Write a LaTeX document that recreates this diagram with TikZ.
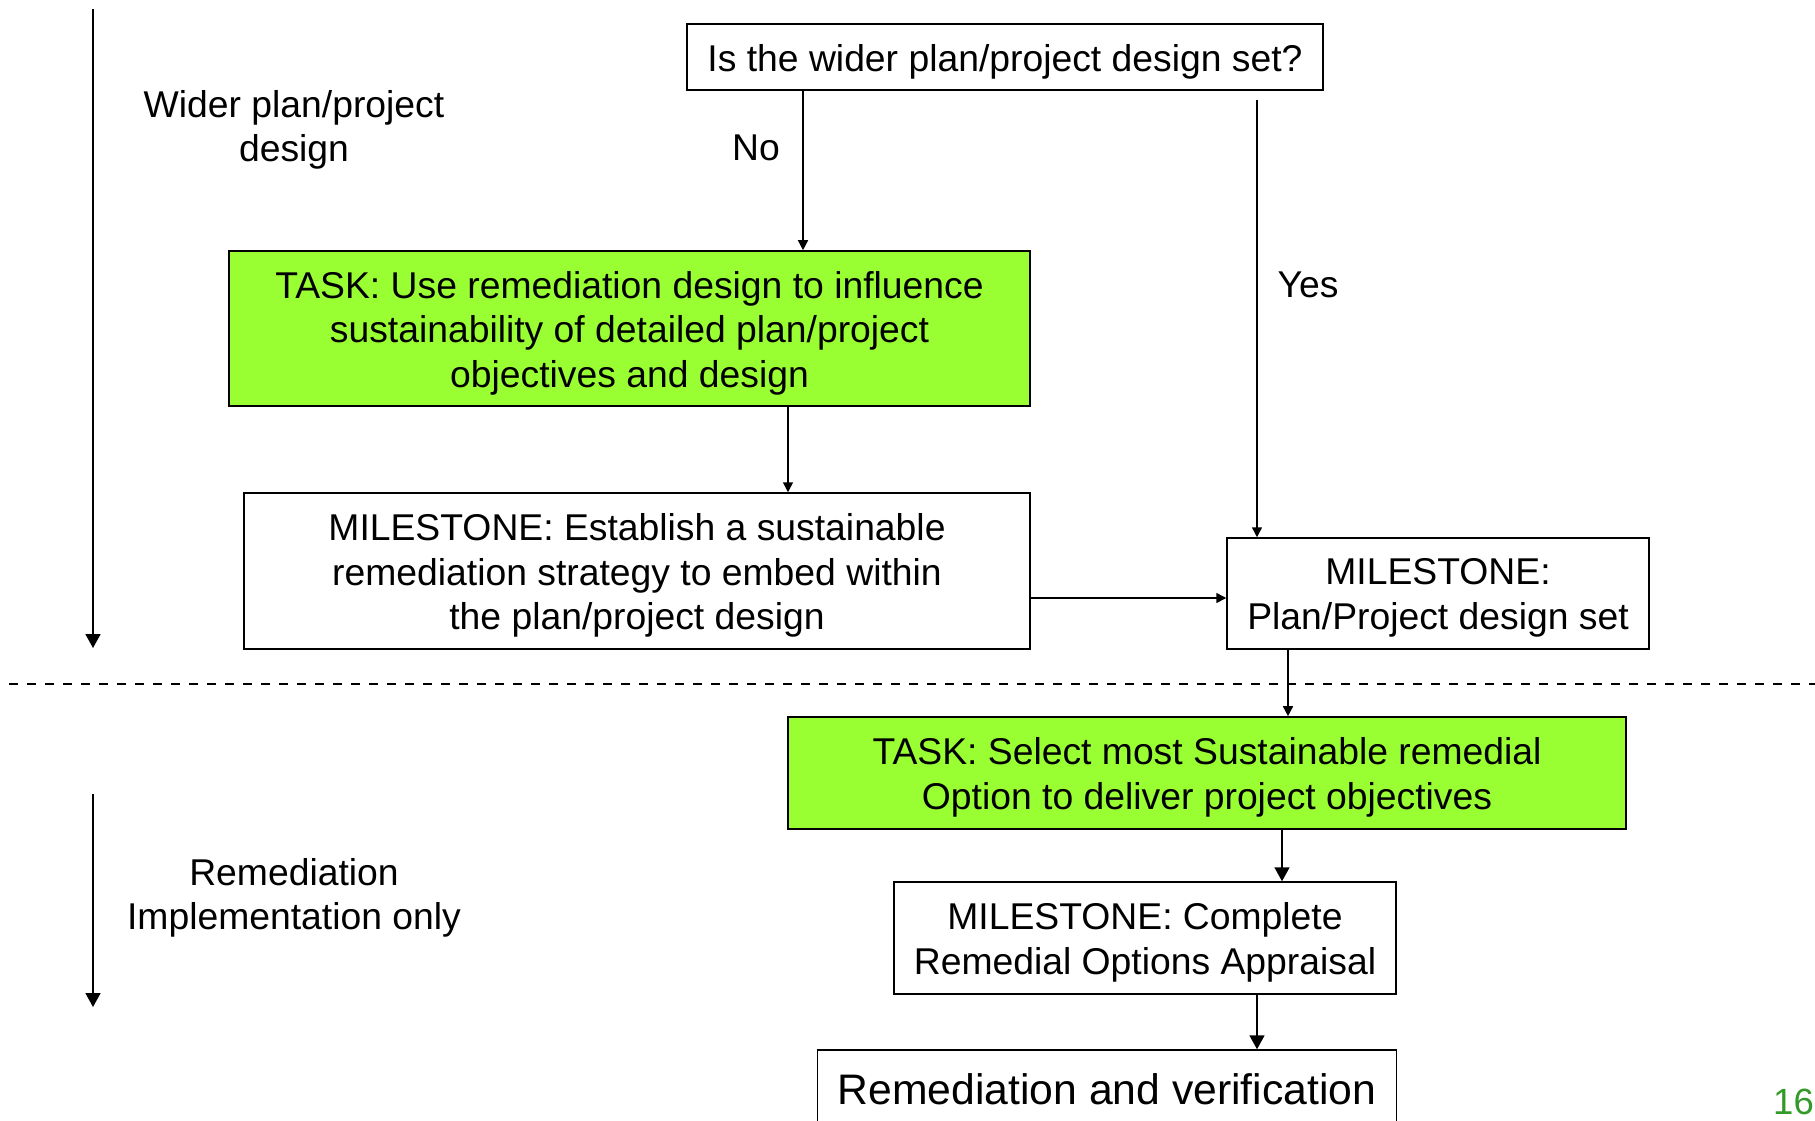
\documentclass[tikz,border=0pt]{standalone}
\usepackage{fontspec}
\setmainfont{Liberation Sans}
\usetikzlibrary{arrows.meta}
\definecolor{taskgreen}{RGB}{153,255,51}
\definecolor{pagegreen}{RGB}{51,153,40}
\begin{document}
\begin{tikzpicture}[x=1pt,y=-1pt,
  every node/.style={font=\fontsize{37.3}{44.5}\selectfont, inner sep=0pt, align=center},
  box/.style={draw, line width=1.5pt, fill=white},
  taskbox/.style={draw, line width=1.6pt, fill=taskgreen},
  smallarrow/.style={-{Triangle[length=10pt,width=10pt]}, line width=1.5pt},
  bigarrow/.style={-{Triangle[length=14pt,width=15pt]}, line width=1.7pt},
  phase/.style={dash pattern=on 9pt off 9pt, line width=1.7pt},
]
\useasboundingbox (0,0) rectangle (1815,1121);

% phase labels and their timeline arrows
\node (lblA) at (294,130) {Wider plan/project\\design};
\node (lblB) at (294,898) {Remediation\\Implementation only};
\coordinate (tA1) at (93,9);
\coordinate (tA2) at (93,648);
\coordinate (tB1) at (93,794);
\coordinate (tB2) at (93,1007);
\draw[bigarrow] (tA1) -- (tA2);
\draw[bigarrow] (tB1) -- (tB2);

% boundary between the two phases
\coordinate (dl) at (9,684);
\coordinate (dr) at (1815,684);
\draw[phase] (dl) -- (dr);

% boxes
\node[box, minimum width=636pt, minimum height=66pt] (q) at (1005,57) {};
\node[taskbox, minimum width=801pt, minimum height=155pt] (g1) at (629.5,328.5) {};
\node[box, minimum width=786pt, minimum height=156pt] (m1) at (637,571) {};
\node[box, minimum width=422pt, minimum height=111pt] (m2) at (1438,593.5) {};
\node[taskbox, minimum width=838pt, minimum height=112pt] (g2) at (1207,773) {};
\node[box, minimum width=502pt, minimum height=112pt] (m3) at (1145,938) {};
\node[box, minimum width=579pt, minimum height=78pt] (r) at (1107,1089) {};

% box texts, set a little below each box centre
\node (qtxt)  at ([yshift=-4.5pt]q.center)  {Is the wider plan/project design set?};
\node (g1txt) at ([yshift=-4.5pt]g1.center) {TASK: Use remediation design to influence\\sustainability of detailed plan/project\\objectives and design};
\node (m1txt) at ([yshift=-4.5pt]m1.center) {MILESTONE: Establish a sustainable\\remediation strategy to embed within\\the plan/project design};
\node (m2txt) at ([yshift=-4.5pt]m2.center) {MILESTONE:\\Plan/Project design set};
\node (g2txt) at ([yshift=-4.5pt]g2.center) {TASK: Select most Sustainable remedial\\Option to deliver project objectives};
\node (m3txt) at ([yshift=-4.5pt]m3.center) {MILESTONE: Complete\\Remedial Options Appraisal};
\node[font=\fontsize{42.7}{51}\selectfont] (rtxt) at (r.center) {Remediation and verification};

% decision labels
\node (no) at (756,148) {No};
\node (yes) at (1308,285) {Yes};

% page number
\node[anchor=east, text=pagegreen, font=\fontsize{36.5}{43}\selectfont] (pg) at (1814,1102) {16};

% connectors
\coordinate (noX) at (803,0);
\coordinate (yesX) at (1257,0);
\coordinate (qlow) at ([yshift=-9pt]q.south);
\coordinate (g1X) at (788,0);
\coordinate (midY) at (0,598);
\coordinate (m2X) at (1288,0);
\coordinate (g2X) at (1282,0);
\coordinate (m3X) at (1257,0);

\draw[smallarrow] (q.south -| noX) -- (g1.north -| noX);
\draw[smallarrow] (qlow -| yesX) -- (m2.north -| yesX);
\draw[smallarrow] (g1.south -| g1X) -- (m1.north -| g1X);
\draw[smallarrow] (m1.east |- midY) -- (m2.west |- midY);
\draw[smallarrow] (m2.south -| m2X) -- (g2.north -| m2X);
\draw[bigarrow] (g2.south -| g2X) -- (m3.north -| g2X);
\draw[bigarrow] (m3.south -| m3X) -- (r.north -| m3X);
\end{tikzpicture}
\end{document}
